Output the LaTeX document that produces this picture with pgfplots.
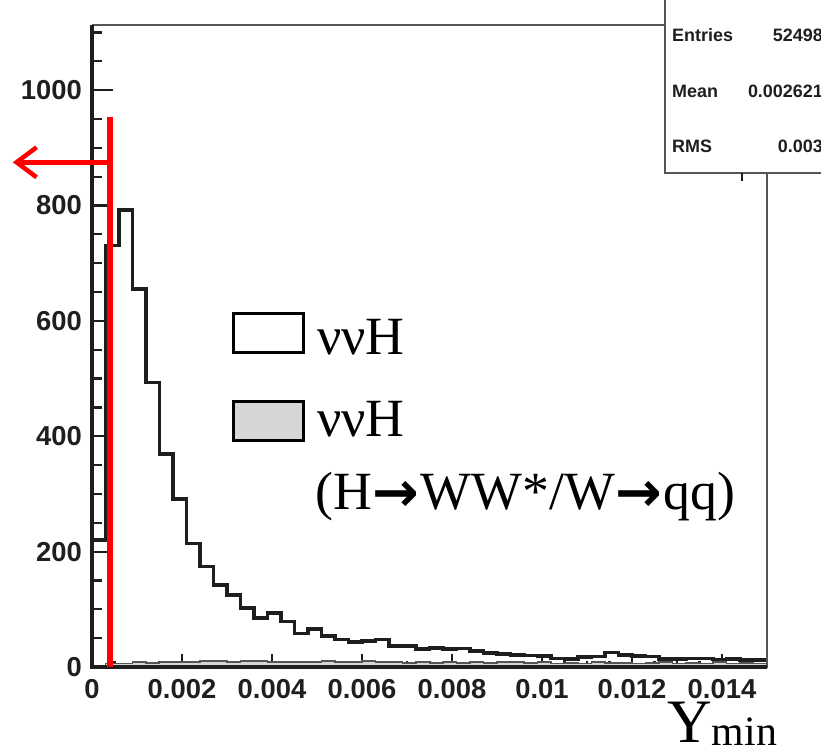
\documentclass[border=0pt]{standalone}
\usepackage{pgfplots}
\pgfplotsset{compat=1.18}
\usepackage{pgfplotstable}
\usepackage{fontspec}
\setmainfont{Liberation Serif}
\newfontfamily\rootfont{Liberation Sans}
\newfontfamily\arrfont{DejaVu Sans}
\usetikzlibrary{arrows.meta}

\pgfplotstableread{
x y
0.0000 220
0.0003 731
0.0006 792
0.0009 655
0.0012 493
0.0015 369
0.0018 291
0.0021 214
0.0024 174
0.0027 142
0.0030 125
0.0033 102
0.0036 85
0.0039 94
0.0042 79
0.0045 58
0.0048 66
0.0051 54
0.0054 48
0.0057 43
0.0060 45
0.0063 48
0.0066 36
0.0069 36
0.0072 31
0.0075 33
0.0078 31
0.0081 32
0.0084 28
0.0087 24
0.0090 23
0.0093 21
0.0096 20
0.0099 19
0.0102 15
0.0105 14
0.0108 17
0.0111 18
0.0114 25
0.0117 21
0.0120 19
0.0123 18
0.0126 14
0.0129 14
0.0132 15
0.0135 15
0.0138 13
0.0141 14
0.0144 12
0.0147 12
0.0150 12
}\sig

\pgfplotstableread{
x y
0.0000 2
0.0003 6
0.0006 6
0.0009 8
0.0012 7
0.0015 9
0.0018 8
0.0021 8
0.0024 10
0.0027 10
0.0030 9
0.0033 10
0.0036 10
0.0039 9
0.0042 9
0.0045 8
0.0048 8
0.0051 10
0.0054 8
0.0057 9
0.0060 10
0.0063 8
0.0066 9
0.0069 7
0.0072 8
0.0075 7
0.0078 9
0.0081 7
0.0084 8
0.0087 7
0.0090 8
0.0093 9
0.0096 7
0.0099 8
0.0102 6
0.0105 7
0.0108 6
0.0111 8
0.0114 7
0.0117 7
0.0120 6
0.0123 7
0.0126 8
0.0129 6
0.0132 7
0.0135 6
0.0138 8
0.0141 6
0.0144 7
0.0147 6
0.0150 6
}\bkg

\definecolor{histline}{HTML}{1E1E1E}
\definecolor{histgrey}{HTML}{D6D6D6}
\definecolor{framegrey}{HTML}{555555}

\begin{document}
\begin{tikzpicture}
\pgfplotsset{
  common/.style={
    scale only axis, width=675bp, height=642bp,
    xmin=0, xmax=0.015, ymin=0, ymax=1113,
    at={(0,0)}, anchor=south west,
    axis line style={draw=none},
    tick align=inside,
    scaled x ticks=false, scaled y ticks=false,
    ticklabel style={font=\rootfont\bfseries\fontsize{27.5}{27.5}\selectfont, text=black!88},
    every tick/.style={histline, line width=2.2bp},
    clip=false,
  }
}
% x ticks axis
\begin{axis}[common,
  ytick=\empty,
  xtick={0,0.002,0.004,0.006,0.008,0.01,0.012,0.014},
  xticklabels={0,0.002,0.004,0.006,0.008,0.01,0.012,0.014},
  minor xtick={0.0005,0.001,0.0015,0.0025,0.003,0.0035,0.0045,0.005,0.0055,0.0065,0.007,0.0075,0.0085,0.009,0.0095,0.0105,0.011,0.0115,0.0125,0.013,0.0135,0.0145},
  xtick pos=bottom,
  major tick length=13bp, minor tick length=6bp,
  xticklabel style={inner sep=0pt, yshift=-12bp},
]
\end{axis}
% main axis
\begin{axis}[common,
  xtick=\empty,
  ytick={0,200,400,600,800,1000},
  yticklabels={0,200,400,600,800,1000},
  minor ytick={50,100,150,250,300,350,450,500,550,650,700,750,850,900,950,1050,1100},
  ytick pos=left,
  major tick length=21bp, minor tick length=10bp,
  yticklabel style={inner sep=0pt, xshift=-10bp},
]
\addplot[const plot mark left, draw=framegrey, line width=1.8bp, fill=histgrey] table {\bkg} \closedcycle;
\addplot[const plot mark left, draw=histline, line width=3.6bp] table {\sig};
% frame
\draw[framegrey, line width=1.8bp] (rel axis cs:0,1) -- (rel axis cs:1,1) -- (rel axis cs:1,0);
\draw[histline, line width=3.2bp] (rel axis cs:0,1) -- (rel axis cs:0,0) -- (rel axis cs:1,0);
% red cut line and arrow
\draw[red, line width=6bp] (axis cs:0.0004,0) -- (axis cs:0.0004,953);
\draw[red, line width=4.5bp, -{Straight Barb[length=20bp,width=30bp]}] (axis cs:0.0004,875) -- (axis cs:-0.00176,875);
\end{axis}

% stats box
\fill[white] (573bp,494bp) rectangle (740bp,680bp);
\draw[framegrey, line width=1.8bp] (740bp,494bp) -- (573bp,494bp) -- (573bp,680bp);
\draw[histline, line width=1.5bp] (650bp,494bp) -- (650bp,486bp);
\begin{scope}[every node/.style={inner sep=0pt, font=\rootfont\bfseries\fontsize{18}{18}\selectfont, text=black!88}]
\node[anchor=base west] at (580bp,625bp) {Entries};
\node[anchor=base east] at (731bp,625bp) {52498};
\node[anchor=base west] at (580bp,569bp) {Mean};
\node[anchor=base east] at (731bp,569bp) {0.002621};
\node[anchor=base west] at (580bp,514bp) {RMS};
\node[anchor=base east] at (731bp,514bp) {0.003};
\end{scope}

% legend
\draw[black, line width=3bp, fill=white] (141bp,314bp) rectangle (211bp,353bp);
\draw[black, line width=3bp, fill=histgrey] (141bp,226bp) rectangle (211bp,265bp);
\begin{scope}[every node/.style={inner sep=0pt, anchor=base west, font=\fontsize{54}{54}\selectfont}]
\node at (225bp,312bp) {ννH};
\node at (225bp,230bp) {ννH};
\node at (223bp,157bp) {(H\kern1bp{\arrfont\bfseries\fontsize{56}{56}\selectfont\raisebox{-2bp}{→}}\kern1bp WW*/W\kern1bp{\arrfont\bfseries\fontsize{56}{56}\selectfont\raisebox{-2bp}{→}}\kern1bp qq)};
\end{scope}

% axis title
\node[inner sep=0pt, anchor=base west] at (575bp,-75bp) {\fontsize{62}{62}\selectfont Y\raisebox{-3bp}{\fontsize{42}{42}\selectfont min}};

\pgfresetboundingbox
\useasboundingbox (-92bp,-84bp) rectangle (729bp,667bp);
\end{tikzpicture}
\end{document}
